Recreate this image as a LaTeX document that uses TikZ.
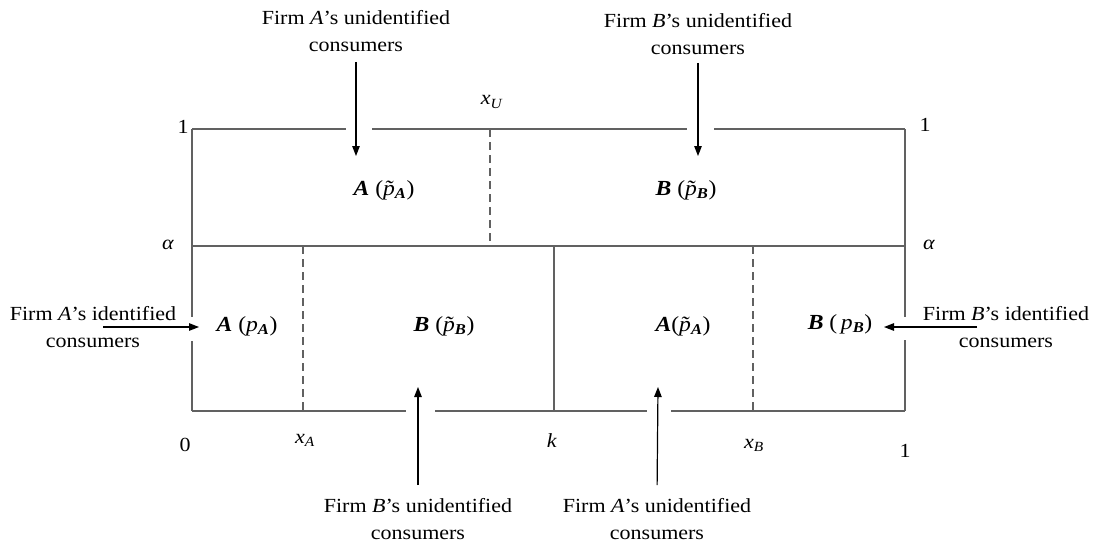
\documentclass[tikz,border=0pt]{standalone}
\usepackage{fontspec}
\setmainfont[FakeStretch=1.1]{Liberation Serif}
\usetikzlibrary{arrows.meta}
\newcommand{\bi}[1]{\textbf{\textit{#1}}}
\newcommand{\pt}{\textit{\makebox[0pt][l]{\hspace{0.06em}\char"02DC}p}}
\begin{document}
\begin{tikzpicture}[x=1pt,y=-1pt,
  txt/.style={font=\fontsize{20}{27}\selectfont, align=center, inner sep=1pt},
  lab/.style={font=\fontsize{20}{22}\selectfont, inner sep=1pt},
  reg/.style={font=\fontsize{21.5}{24}\selectfont, inner sep=1pt},
  boxline/.style={draw=black!62, line width=1.6pt},
  dashline/.style={draw=black!62, line width=1.6pt, dash pattern=on 8pt off 5pt},
  arr/.style={draw=black, line width=1.2pt, -{Triangle[length=10pt,width=7.5pt]}}]
\useasboundingbox (0,0) rectangle (1096,550);
% box
\draw[boxline] (192,129) -- (346,129);
\draw[boxline] (372,129) -- (687,129);
\draw[boxline] (714,129) -- (905,129);
\draw[boxline] (192,129) -- (192,317);
\draw[boxline] (192,341) -- (192,411);
\draw[boxline] (905,129) -- (905,317);
\draw[boxline] (905,340) -- (905,411);
\draw[boxline] (192,411) -- (406,411);
\draw[boxline] (435,411) -- (647,411);
\draw[boxline] (671,411) -- (905,411);
\draw[boxline] (192,246) -- (905,246);
\draw[boxline] (554,246) -- (554,411);
\draw[dashline] (490,129) -- (490,246);
\draw[dashline] (303,246) -- (303,411);
\draw[dashline] (753,246) -- (753,411);
% axis labels
\node[lab] (one1) at (183,127) {1};
\node[lab] (one2) at (925,125) {1};
\node[lab] (alL) at (168,245) {\textit{α}};
\node[lab] (alR) at (929,245) {\textit{α}};
\node[lab] (xu) at (492,102) {\textit{x}\textsubscript{\textit{U}}};
\node[lab] (zero) at (185,445) {0};
\node[lab] (xa) at (305,440) {\textit{x}\textsubscript{\textit{A}}};
\node[lab] (kk) at (552,441) {\textit{k}};
\node[lab] (xb) at (754,445) {\textit{x}\textsubscript{\textit{B}}};
\node[lab] (one3) at (905,451) {1};
% region labels
\node[reg] (rua) at (384,190) {\bi{A} (\pt\textsubscript{\bi{A}})};
\node[reg] (rub) at (686,190) {\bi{B} (\pt\textsubscript{\bi{B}})};
\node[reg] (rla) at (247,326) {\bi{A} (\textit{p}\textsubscript{\bi{A}})};
\node[reg] (rlb) at (444,326) {\bi{B} (\pt\textsubscript{\bi{B}})};
\node[reg] (rra) at (683,326) {\bi{A}(\pt\textsubscript{\bi{A}})};
\node[reg] (rrb) at (840,324) {\bi{B} (\,\textit{p}\textsubscript{\bi{B}})};
% texts
\node[txt] (tua) at (356,31) {Firm \textit{A}’s unidentified\\consumers};
\node[txt] (tub) at (698,34) {Firm \textit{B}’s unidentified\\consumers};
\node[txt] (tla) at (93,327) {Firm \textit{A}’s identified\\consumers};
\node[txt] (trb) at (1006,327) {Firm \textit{B}’s identified\\consumers};
\node[txt] (tbb) at (418,519) {Firm \textit{B}’s unidentified\\consumers};
\node[txt] (tba) at (657,519) {Firm \textit{A}’s unidentified\\consumers};
% arrow tips
\coordinate (tipTA) at (356,156);
\coordinate (tipTB) at (698,156);
\coordinate (tipL) at (199,327);
\coordinate (tipR) at (884,327);
\coordinate (tipBB) at (418,387);
\coordinate (tipBA) at (658,387);
% arrows
\draw[arr, shorten <=9pt] (tua.south) -- (tipTA);
\draw[arr, shorten <=7pt] (tub.south) -- (tipTB);
\draw[arr] ([xshift=10pt]tla.center) -- (tipL);
\draw[arr] ([xshift=-29pt]trb.center) -- (tipR);
\draw[arr, shorten <=12pt] (tbb.north) -- (tipBB);
\draw[arr, shorten <=12pt] (tba.north) -- (tipBA);
\end{tikzpicture}
\end{document}
